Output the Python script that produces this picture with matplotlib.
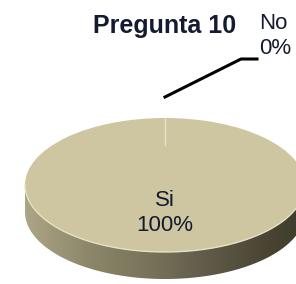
import numpy as np
import matplotlib.pyplot as plt
from matplotlib.patches import Polygon
from matplotlib.colors import LinearSegmentedColormap

labels = ['Si', 'No']
values = [100, 0]
title = 'Pregunta 10'

top_color = '#cdc6a0'
text_color = '#141a30'

fig = plt.figure(figsize=(2.96, 2.84), dpi=100)
ax = fig.add_axes([0, 0, 1, 1])

# pie in unit circle, squashed by the axis limits
cx, cy = 165, 185      # pixel centre of top face
rx, ry = 140, 67       # pixel radii
depth = 27 / ry

wedges, _ = ax.pie(values, startangle=90, counterclock=False,
                   colors=[top_color, top_color],
                   wedgeprops=dict(edgecolor='none'), normalize=True)
ax.set_aspect('auto')
ax.axis('off')

for w in wedges:
    w.set_zorder(3)

# side of the disc
t = np.linspace(np.pi, 2 * np.pi, 200)
top_edge = np.column_stack([np.cos(t), np.sin(t)])
bot_edge = np.column_stack([np.cos(t[::-1]), np.sin(t[::-1]) - depth])
side = Polygon(np.vstack([top_edge, bot_edge]), closed=True,
               facecolor='none', edgecolor='none', zorder=2)
ax.add_patch(side)
cmap = LinearSegmentedColormap.from_list(
    'side', [(0, '#aca686'), (0.23, '#8c866a'), (0.45, '#777259'),
             (0.66, '#5f5a48'), (0.9, '#46422f'), (1, '#403c2c')])
grad = np.linspace(0, 1, 256).reshape(1, -1)
im = ax.imshow(grad, cmap=cmap, aspect='auto',
               extent=[-1, 1, -1 - depth, 0], zorder=2)
im.set_clip_path(side)
ax.set_xlim(-cx / rx, (296 - cx) / rx)
ax.set_ylim(-(284 - cy) / ry, cy / ry)

# light rim where top meets side
ax.plot(np.cos(t), np.sin(t), color='#e6e1c6', lw=1, zorder=4)
# slice boundary at 0%
ax.plot([0, 0], [1, 0.6], color='#e6e2c8', lw=1, zorder=4)

# labels
pct = [v / sum(values) * 100 for v in values]
ax.text(0, (cy - 213) / ry, f'{labels[0]}\n{pct[0]:.0f}%', ha='center', va='center',
        fontsize=16, family='Liberation Sans', color=text_color,
        linespacing=1.3, zorder=5)
ax.plot([0, (241 - cx) / rx, (257 - cx) / rx],
        [(cy - 97) / ry, (cy - 59) / ry, (cy - 59) / ry],
        color='black', lw=2.2, zorder=5)
ax.text((259 - cx) / rx, (cy - 36) / ry, f'{labels[1]}\n{pct[1]:.0f}%', ha='left', va='center',
        fontsize=16, family='Liberation Sans', color=text_color,
        linespacing=1.3, zorder=5)

fig.text(165 / 296, 1 - 26 / 284, title, ha='center', va='center',
         fontsize=18, fontweight='bold', family='Liberation Sans', color=text_color)

fig.savefig('out.png', dpi=100)
